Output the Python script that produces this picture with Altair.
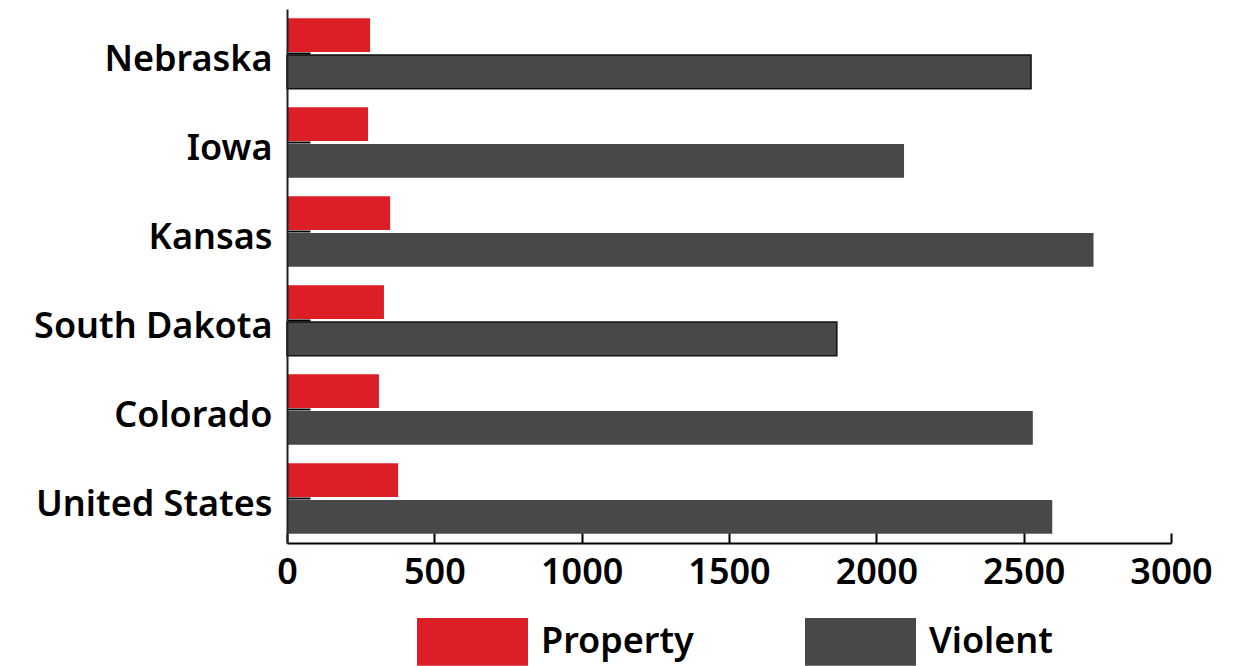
import altair as alt
import pandas as pd

states = ["Nebraska", "Iowa", "Kansas", "South Dakota", "Colorado", "United States"]
property_vals = [282, 275, 350, 329, 312, 377]
violent_vals = [2525, 2094, 2737, 1866, 2531, 2597]
series = ["Property", "Violent"]
x_ticks = [0, 500, 1000, 1500, 2000, 2500, 3000]

rows = []
for s, p, v in zip(states, property_vals, violent_vals):
    rows.append({"state": s, "type": "Property", "value": p})
    rows.append({"state": s, "type": "Violent", "value": v})
df = pd.DataFrame(rows)

FONT = "Noto Sans"
WEIGHT = 600

bars = alt.Chart(df).mark_bar().encode(
    y=alt.Y("state:N", sort=states,
            scale=alt.Scale(paddingInner=0.21, paddingOuter=0.105),
            axis=alt.Axis(title=None, labelFont=FONT, labelFontSize=36,
                          labelFontWeight=WEIGHT, labelColor="#000",
                          labelPadding=38, labelLimit=600, labelOffset=6,
                          tickSize=alt.ExprRef("-23"),
                          tickWidth=2, tickColor="#000",
                          domainColor="#222", domainWidth=2, zindex=1)),
    yOffset=alt.YOffset("type:N", sort=series, scale=alt.Scale(paddingInner=0.08)),
    x=alt.X("value:Q", scale=alt.Scale(domain=[0, 3000], nice=False),
            axis=alt.Axis(title=None, values=x_ticks, grid=False, format="d",
                          labelFont=FONT, labelFontSize=36, labelFontWeight=WEIGHT,
                          labelColor="#000", labelPadding=22, labelFlush=False,
                          tickSize=alt.ExprRef("-10"), tickWidth=2, tickColor="#000",
                          domainColor="#000", domainWidth=2, zindex=1)),
    color=alt.Color("type:N", sort=series,
                    scale=alt.Scale(domain=series, range=["#DC1F26", "#48484A"]),
                    legend=alt.Legend(title=None, orient="none", legendX=130, legendY=577,
                                      direction="horizontal",
                                      symbolType="M-1,-0.43H1V0.43H-1Z",
                                      symbolSize=12321, symbolStrokeWidth=0,
                                      symbolOpacity=1,
                                      labelFont=FONT, labelFontSize=36,
                                      labelFontWeight=WEIGHT, labelColor="#000",
                                      labelOffset=13, columnPadding=111)),
    stroke=alt.condition("datum.type == 'Violent' && (datum.state == 'Nebraska' || datum.state == 'South Dakota')",
                         alt.value("#111"), alt.value(None)),
    strokeWidth=alt.value(1.5),
)

chart = bars.properties(
    width=884, height=534,
    autosize=alt.AutoSizeParams(type="none"),
    padding={"left": 279, "top": 1, "right": 75, "bottom": 130},
).configure(background="white").configure_view(stroke=None)

chart.save("out.html", embed_options={"renderer": "svg", "actions": False})
